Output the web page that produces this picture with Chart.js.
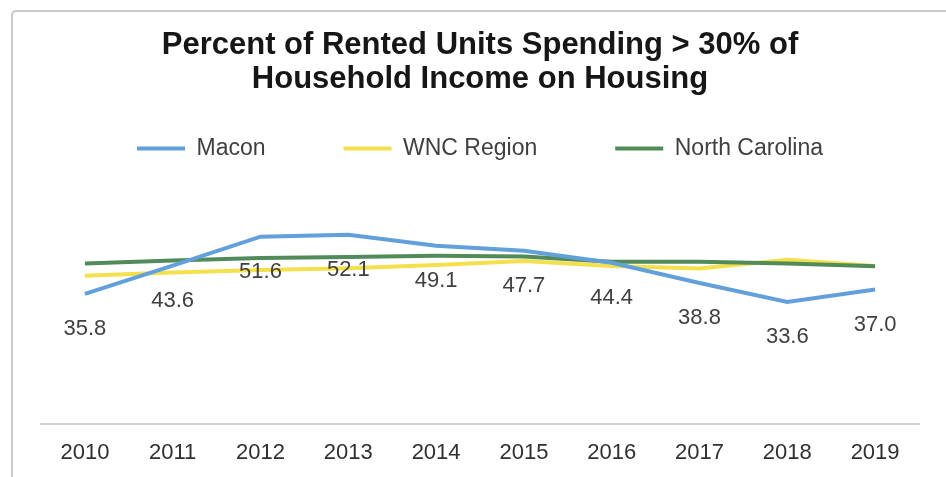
<!DOCTYPE html>
<html>
<head>
<meta charset="utf-8">
<script src="https://cdn.jsdelivr.net/npm/chart.js@4"></script>
<style>
  body { margin: 0; background: #fff; overflow: hidden; }
  #frame {
    position: absolute; left: 11px; top: 10px;
    width: 960px; height: 500px;
    border: 2px solid #cbcbcb; border-radius: 5px;
  }
  #chart1 { position: absolute; left: 0; top: 0; }
</style>
</head>
<body>
<div id="frame"></div>
<canvas id="chart1" width="946" height="477"></canvas>
<script>
// --- data ---
const years = ['2010', '2011', '2012', '2013', '2014', '2015', '2016', '2017', '2018', '2019'];
const macon = [35.8, 43.6, 51.6, 52.1, 49.1, 47.7, 44.4, 38.8, 33.6, 37.0];
const wnc = [40.8, 41.7, 42.4, 42.9, 43.8, 44.9, 43.5, 42.8, 45.2, 43.5];
const northCarolina = [44.2, 45.0, 45.7, 46.0, 46.3, 46.1, 44.7, 44.7, 44.2, 43.4];

const FONT = '"Liberation Sans", Arial, sans-serif';

// values under the Macon line
const maconLabels = {
    id: 'maconLabels',
    afterDatasetsDraw(chart) {
        const ctx = chart.ctx;
        const meta = chart.getDatasetMeta(0);
        ctx.save();
        ctx.font = '22px ' + FONT;
        ctx.fillStyle = '#404040';
        ctx.textAlign = 'center';
        ctx.textBaseline = 'middle';
        meta.data.forEach((pt, i) => {
            ctx.fillText(macon[i].toFixed(1), pt.x, pt.y + 35);
        });
        ctx.restore();
    }
};

const ctx1 = document.getElementById('chart1').getContext('2d');

const data1 = {
    labels: years,
    datasets: [
        {
            label: 'Macon',
            data: macon,
            borderColor: '#62a0dc',
            backgroundColor: '#62a0dc',
            borderWidth: 4,
            fill: false,
            pointRadius: 0,
            tension: 0,
            order: 0
        },
        {
            label: 'WNC Region',
            data: wnc,
            borderColor: '#f4e04c',
            backgroundColor: '#f4e04c',
            borderWidth: 4,
            fill: false,
            pointRadius: 0,
            tension: 0,
            order: 2
        },
        {
            label: 'North Carolina',
            data: northCarolina,
            borderColor: '#528b5a',
            backgroundColor: '#528b5a',
            borderWidth: 4,
            fill: false,
            pointRadius: 0,
            tension: 0,
            order: 1
        }
    ]
};

const config1 = {
    type: 'line',
    data: data1,
    plugins: [maconLabels],
    options: {
        animation: false,
        responsive: false,
        layout: { padding: { left: 41, right: 27, top: 0, bottom: -5 } },
        plugins: {
            tooltip: { enabled: false },
            title: {
                display: true,
                text: ['Percent of Rented Units Spending > 30% of', 'Household Income on Housing'],
                color: '#161616',
                font: { family: FONT, size: 31, weight: 'bold', lineHeight: 1.1 },
                padding: { top: 28, bottom: -37.2 }
            },
            legend: {
                position: 'top',
                labels: {
                    color: '#404040',
                    font: { family: FONT, size: 23 },
                    boxWidth: 48,
                    boxHeight: 4,
                    padding: 78,
                    sort: (a, b) => a.datasetIndex - b.datasetIndex,
                    generateLabels(chart) {
                        const items = Chart.defaults.plugins.legend.labels.generateLabels(chart);
                        items.forEach(it => { it.lineWidth = 0; });
                        return items;
                    }
                }
            }
        },
        scales: {
            x: {
                offset: true,
                grid: { display: false, drawTicks: false },
                border: { display: true, color: '#d2d2d2', width: 2 },
                ticks: { color: '#303030', font: { family: FONT, size: 22 }, padding: 16 }
            },
            y: {
                display: false,
                min: 0,
                max: 70
            }
        }
    }
};

const chart1 = new Chart(ctx1, config1);
</script>
</body>
</html>
